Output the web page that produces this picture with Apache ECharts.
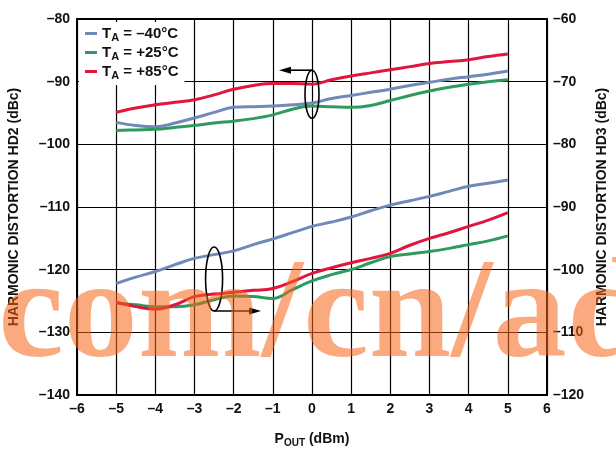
<!DOCTYPE html>
<html>
<head>
<meta charset="utf-8">
<script src="https://cdn.jsdelivr.net/npm/echarts@6/dist/echarts.min.js"></script>
<style>
  html, body { margin: 0; padding: 0; background: #fff; }
  #chart { width: 616px; height: 449px; }
</style>
</head>
<body>
<div id="chart"></div>
<script>
// output power, dBm
const pout = [-5, -4.5, -4, -3.5, -3, -2.5, -2, -1.5, -1, -0.5, 0, 0.5, 1, 1.5, 2, 2.5, 3, 3.5, 4, 4.5, 5]

// HD2, left axis (dBc)
const hd2Cold = [-96.5, -97.0, -97.2, -96.6, -95.8, -94.9, -94.1, -94.0, -93.9, -93.7, -93.4, -92.7, -92.2, -91.7, -91.2, -90.6, -90.1, -89.6, -89.2, -88.8, -88.3]
const hd2Room = [-97.8, -97.7, -97.6, -97.3, -97.0, -96.6, -96.3, -95.9, -95.3, -94.4, -93.9, -94.0, -94.1, -93.8, -93.0, -92.2, -91.5, -90.9, -90.4, -90.0, -89.7]
const hd2Hot = [-94.9, -94.2, -93.7, -93.3, -92.9, -92.1, -91.2, -90.6, -90.3, -90.3, -90.4, -89.7, -89.1, -88.6, -88.1, -87.6, -87.1, -86.8, -86.5, -86.0, -85.6]

// HD3, right axis (dBc)
const hd3Cold = [-102.2, -101.2, -100.3, -99.2, -98.2, -97.6, -97.0, -96.0, -95.1, -94.1, -93.1, -92.4, -91.6, -90.6, -89.7, -89.0, -88.3, -87.5, -86.7, -86.2, -85.7]
const hd3Room = [-105.3, -105.6, -105.9, -105.9, -105.6, -104.8, -104.2, -104.3, -104.6, -103.2, -101.8, -100.8, -100.0, -98.9, -97.9, -97.5, -97.1, -96.6, -96.0, -95.4, -94.6]
const hd3Hot = [-105.2, -105.9, -106.3, -105.6, -104.3, -103.9, -103.6, -103.3, -103.0, -101.9, -100.6, -99.7, -98.9, -98.2, -97.4, -96.1, -95.0, -94.1, -93.1, -92.1, -90.9]

const tempNames = ['–40°C', '+25°C', '+85°C']
const colors = ['#7089b9', '#2e9a5e', '#e0163c']

const pair = (ys) => pout.map((x, i) => [x, ys[i]])
const dash = (v) => String(v).replace('-', '–')

const fam = 'Liberation Sans, Arial, sans-serif'
const labelFont = { color: '#111', fontSize: 14, fontWeight: 'bold', fontFamily: fam }

const chart = echarts.init(document.getElementById('chart'))

const makeSeries = (name, ys, color, axis) => ({
  name,
  type: 'line',
  yAxisIndex: axis,
  data: pair(ys),
  smooth: 0.4,
  symbol: 'none',
  animation: false,
  lineStyle: { width: 3, color },
  itemStyle: { color }
})

chart.setOption({
  backgroundColor: '#fff',
  animation: false,
  grid: {
    left: 77, right: 69, top: 19, bottom: 54,
    outerBoundsMode: 'none',
    containLabel: false,
    show: true, borderColor: '#000', borderWidth: 2
  },
  legend: {
    data: tempNames,
    left: 79, top: 22,
    orient: 'vertical',
    backgroundColor: '#fff',
    padding: [4, 6, 4, 6],
    itemGap: 2,
    icon: 'rect',
    itemWidth: 12, itemHeight: 3,
    z: 5,
    formatter: (n) => '{b|T}{s|A}{b| = ' + n + '}',
    textStyle: {
      rich: {
        b: { fontSize: 15, fontWeight: 'bold', color: '#111', fontFamily: fam },
        s: { fontSize: 11, fontWeight: 'bold', color: '#111', fontFamily: fam, padding: [8, 0, 0, 0] }
      }
    }
  },
  xAxis: {
    type: 'value',
    min: -6, max: 6, interval: 1,
    name: 'P{s|OUT} (dBm)',
    nameLocation: 'middle',
    nameGap: 35,
    nameTextStyle: {
      ...labelFont,
      rich: {
        s: { ...labelFont, fontSize: 10, padding: [8, 0, 0, 0] }
      }
    },
    axisLine: { onZero: false, lineStyle: { color: '#000', width: 2 } },
    axisTick: { show: false },
    axisLabel: { ...labelFont, margin: 7, formatter: dash },
    splitLine: { lineStyle: { color: '#000', width: 1.2 } }
  },
  yAxis: [
    {
      type: 'value',
      min: -140, max: -80, interval: 10,
      name: 'HARMONIC DISTORTION HD2 (dBc)',
      nameLocation: 'middle',
      nameGap: 56,
      nameTextStyle: { ...labelFont, fontSize: 14 },
      axisLine: { show: true, onZero: false, lineStyle: { color: '#000', width: 2 } },
      axisTick: { show: false },
      axisLabel: { ...labelFont, margin: 7, formatter: dash },
      splitLine: { lineStyle: { color: '#000', width: 1.2 } }
    },
    {
      type: 'value',
      min: -120, max: -60, interval: 10,
      position: 'right',
      name: 'HARMONIC DISTORTION HD3 (dBc)',
      nameLocation: 'middle',
      nameGap: 48,
      nameRotate: 90,
      nameTextStyle: { ...labelFont, fontSize: 14 },
      axisLine: { show: true, onZero: false, lineStyle: { color: '#000', width: 2 } },
      axisTick: { show: false },
      axisLabel: { ...labelFont, margin: 6, formatter: dash },
      splitLine: { show: false }
    }
  ],
  series: [
    makeSeries(tempNames[0], hd2Cold, colors[0], 0),
    makeSeries(tempNames[1], hd2Room, colors[1], 0),
    makeSeries(tempNames[2], hd2Hot, colors[2], 0),
    makeSeries(tempNames[0], hd3Cold, colors[0], 1),
    makeSeries(tempNames[1], hd3Room, colors[1], 1),
    makeSeries(tempNames[2], hd3Hot, colors[2], 1)
  ]
})

// annotations: ellipses with arrows telling which axis each group uses
const px = (x, y) => chart.convertToPixel({ gridIndex: 0 }, [x, y])
const e1 = px(0, -92.0)
const e2 = px(-2.5, -121.5)
const ink = { stroke: '#000', lineWidth: 1.6, fill: 'none' }

chart.setOption({
  graphic: [
    { type: 'ellipse', z: 50, shape: { cx: e1[0], cy: e1[1], rx: 7, ry: 24 }, style: ink },
    { type: 'line', z: 50, shape: { x1: e1[0], y1: e1[1] - 24, x2: e1[0] - 22, y2: e1[1] - 24 }, style: { stroke: '#000', lineWidth: 1.6 } },
    { type: 'polygon', z: 50, shape: { points: [[e1[0] - 33, e1[1] - 24], [e1[0] - 21, e1[1] - 27.5], [e1[0] - 21, e1[1] - 20.5]] }, style: { fill: '#000' } },
    { type: 'ellipse', z: 50, shape: { cx: e2[0], cy: e2[1], rx: 8.5, ry: 32 }, style: ink },
    { type: 'line', z: 50, shape: { x1: e2[0], y1: e2[1] + 32, x2: e2[0] + 36, y2: e2[1] + 32 }, style: { stroke: '#000', lineWidth: 1.6 } },
    { type: 'polygon', z: 50, shape: { points: [[e2[0] + 47, e2[1] + 32], [e2[0] + 35, e2[1] + 28.5], [e2[0] + 35, e2[1] + 35.5]] }, style: { fill: '#000' } },
    {
      type: 'text', z: 100, silent: true,
      x: -2, y: 319,
      scaleX: 1.045,
      style: {
        x: 0, y: 0,
        text: 'com/cn/ad',
        font: 'bold 142px "Liberation Serif", "DejaVu Serif", serif',
        fill: 'rgba(245,100,20,0.55)',
        verticalAlign: 'middle'
      }
    }
  ]
})
</script>
</body>
</html>
